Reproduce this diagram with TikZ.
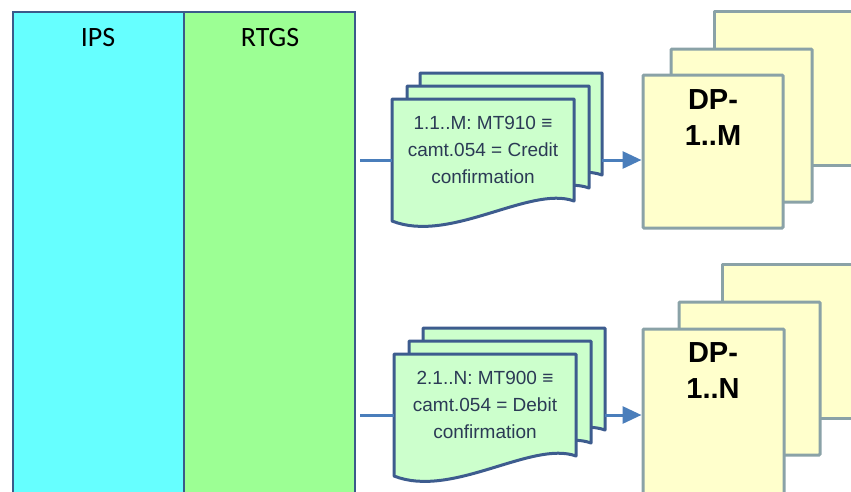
\documentclass[tikz,border=0pt]{standalone}
\usepackage{fontspec}
\setmainfont{Liberation Sans}
\newfontfamily\calib{Carlito}
\usetikzlibrary{arrows.meta}
\definecolor{ipsfill}{HTML}{66FFFF}
\definecolor{rtgsfill}{HTML}{9CFF94}
\definecolor{colborder}{HTML}{3B5A8A}
\definecolor{docfill}{HTML}{CCFFCC}
\definecolor{docborder}{HTML}{3D5C8E}
\definecolor{doctxt}{HTML}{2B3A55}
\definecolor{dpfill}{HTML}{FFFFCC}
\definecolor{dpborder}{HTML}{8AA2A7}
\definecolor{arrowc}{HTML}{4A7EBB}
\tikzset{
  colbox/.style={draw=colborder, line width=2.5pt, rectangle, inner sep=0pt},
  coltext/.style={font=\calib\fontsize{28}{30}\selectfont, anchor=base, inner sep=0pt},
  docst/.style={draw=docborder, fill=docfill, line width=3pt, line join=round},
  doctext/.style={font=\fontsize{19}{27}\selectfont, text=doctxt, align=center, inner sep=0pt},
  dpbox/.style={draw=dpborder, fill=dpfill, line width=3pt, rectangle, rounded corners=1pt, inner sep=0pt},
  dpback/.style={fill=dpfill, rectangle, inner sep=0pt},
  dpedge/.style={draw=dpborder, line width=3pt, line join=round},
  dptext/.style={font=\bfseries\fontsize{29}{36}\selectfont, align=center, inner sep=0pt},
  conn/.style={draw=arrowc, line width=3pt},
  arr/.style={conn, -{Triangle[length=19pt,width=17pt]}},
}
\newcommand\docsh[3]{%
  \draw[docst] (#2,#3) -- ({#2+182},#3) -- ({#2+182},{#3+102})
    .. controls ({#2+138},{#3+86}) and ({#2+58},{#3+145}) .. (#2,{#3+122}) -- cycle;
  \path ({#2+91},{#3+61}) node[minimum width=182pt, minimum height=122pt, inner sep=0pt] (#1) {};}
\begin{document}
\begin{tikzpicture}[x=1pt,y=-1pt]
\useasboundingbox (0,0) rectangle (851,491);
\clip (0,0) rectangle (851,491);
% columns
\node[colbox, fill=ipsfill, minimum width=171pt, minimum height=520pt] (ips) at (98.5,272) {};
\node[colbox, fill=rtgsfill, minimum width=171pt, minimum height=520pt] (rtgs) at (269.5,272) {};
\node[coltext] (ipsl) at (98,46) {IPS};
\node[coltext] (rtgsl) at (270,46) {RTGS};
% top DP stack
\node[dpback, minimum width=200pt, minimum height=153pt] (dpm3) at (815,88.5) {};
\draw[dpedge] (dpm3.north east) -- (dpm3.north west) -- (dpm3.south west) -- (dpm3.south east);
\node[dpbox, minimum width=141pt, minimum height=153pt] (dpm2) at (741.5,125.5) {};
\node[dpbox, minimum width=140pt, minimum height=153pt] (dpm1) at (713,151.5) {};
\node[dptext] (dpml) at (713,118) {DP-\\1..M};
% bottom DP stack
\node[dpback, minimum width=200pt, minimum height=153pt] (dpn3) at (823,341.5) {};
\draw[dpedge] (dpn3.north east) -- (dpn3.north west) -- (dpn3.south west) -- (dpn3.south east);
\node[dpbox, minimum width=141pt, minimum height=153pt] (dpn2) at (749.5,378.5) {};
\node[dpbox, minimum width=141pt, minimum height=200pt] (dpn1) at (713.5,429) {};
\node[dptext] (dpnl) at (713,371) {DP-\\1..N};
% top documents
\docsh{docm3}{420}{73}
\docsh{docm2}{407}{86}
\docsh{docm1}{392}{99}
\node[doctext] (tm) at (483,150) {1.1..M: MT910 ≡\\camt.054 = Credit\\confirmation};
% bottom documents
\docsh{docn3}{423}{328}
\docsh{docn2}{409}{341}
\docsh{docn1}{394}{354}
\node[doctext] (tn) at (485,405) {2.1..N: MT900 ≡\\camt.054 = Debit\\confirmation};
% connectors
\coordinate (s1) at (360,160);
\coordinate (s2) at (360,415);
\draw[conn] (s1) -- (docm1.west |- s1);
\draw[arr] (docm3.east |- s1) -- (dpm1.west |- s1);
\draw[conn] (s2) -- (docn1.west |- s2);
\draw[arr] (docn3.east |- s2) -- (dpn1.west |- s2);
\end{tikzpicture}
\end{document}
